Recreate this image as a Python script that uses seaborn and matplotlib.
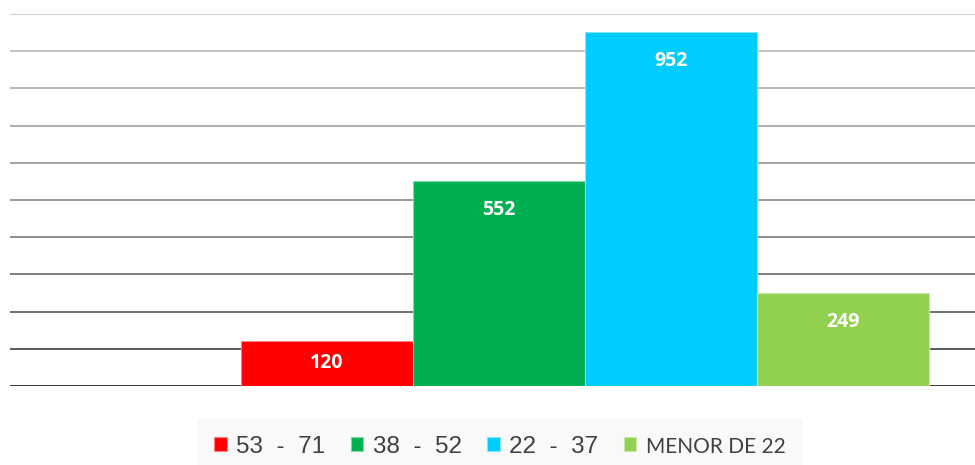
import numpy as np
import pandas as pd
import matplotlib
matplotlib.use("Agg")
import matplotlib.pyplot as plt
import matplotlib.colors as mcolors
import seaborn as sns

# datos de la grafica
grupos = ["53  -  71", "38  -  52", "22  -  37", "MENOR DE 22"]
valores = [120, 552, 952, 249]
colores = ["#ff0000", "#00b050", "#00ccff", "#92d050"]

sns.set_style("white")
plt.rcParams['font.family'] = ['Liberation Sans', 'DejaVu Sans']

df = pd.DataFrame({"grupo": grupos, "valor": valores, "cat": ["total"] * len(grupos)})

fig = plt.figure(figsize=(9.75, 4.65), dpi=100)
ax = fig.add_axes([10 / 975, 1 - 386 / 465, 965 / 975, 372 / 465])

sns.barplot(data=df, x="cat", y="valor", hue="grupo", hue_order=grupos,
            palette=colores, width=0.8, saturation=1, ax=ax, zorder=3)

# bordes claros en cada barra
for p in ax.patches:
    fc = np.array(mcolors.to_rgb(p.get_facecolor()))
    p.set_edgecolor(fc * 0.5 + 0.5)
    p.set_linewidth(0.8)

ax.set_ylim(0, 1000)
ax.set_xlim(-0.6686, 0.4535)

# lineas de cuadricula con degradado de gris
for t in np.arange(0, 1001, 100):
    g = 0.08 + 0.68 * (t / 1000) ** 0.6
    ax.axhline(t, color=(g, g, g), lw=1.2, zorder=1)

ax.set_xticks([])
ax.set_yticks([])
ax.set_xlabel("")
ax.set_ylabel("")
sns.despine(ax=ax, left=True, bottom=True)

# etiquetas de datos dentro de la barra
for cont in ax.containers:
    for bar in cont:
        h = bar.get_height()
        x0 = bar.get_x() + bar.get_width() / 2
        px = ax.transData.transform((0, h))[1] - ax.transData.transform((0, 0))[1]
        off = -min(29, px / 2 - 1) * 72 / fig.dpi
        ax.annotate(f"{int(h)}", (x0, h), xytext=(0, off), textcoords="offset points",
                    ha="center", va="center", color="white", fontsize=14,
                    fontweight="bold", family="Open Sans", zorder=4)

handles, labels = ax.get_legend_handles_labels()
if ax.legend_:
    ax.legend_.remove()
leg = fig.legend(handles, labels, loc="upper center", bbox_to_anchor=(500 / 975, 1 - 419 / 465),
                 ncol=4, frameon=True, fancybox=False, fontsize=17.5, handlelength=0.5,
                 handleheight=0.5, handletextpad=0.4, columnspacing=1.05,
                 borderpad=0.7, borderaxespad=0, labelcolor="#404040")
leg.get_frame().set_facecolor("#f8f8f8")
leg.get_frame().set_edgecolor("none")
leg.get_texts()[3].set_family("Lato")
leg.get_texts()[3].set_fontsize(15)

fig.savefig("out.png", dpi=100, facecolor="white")
